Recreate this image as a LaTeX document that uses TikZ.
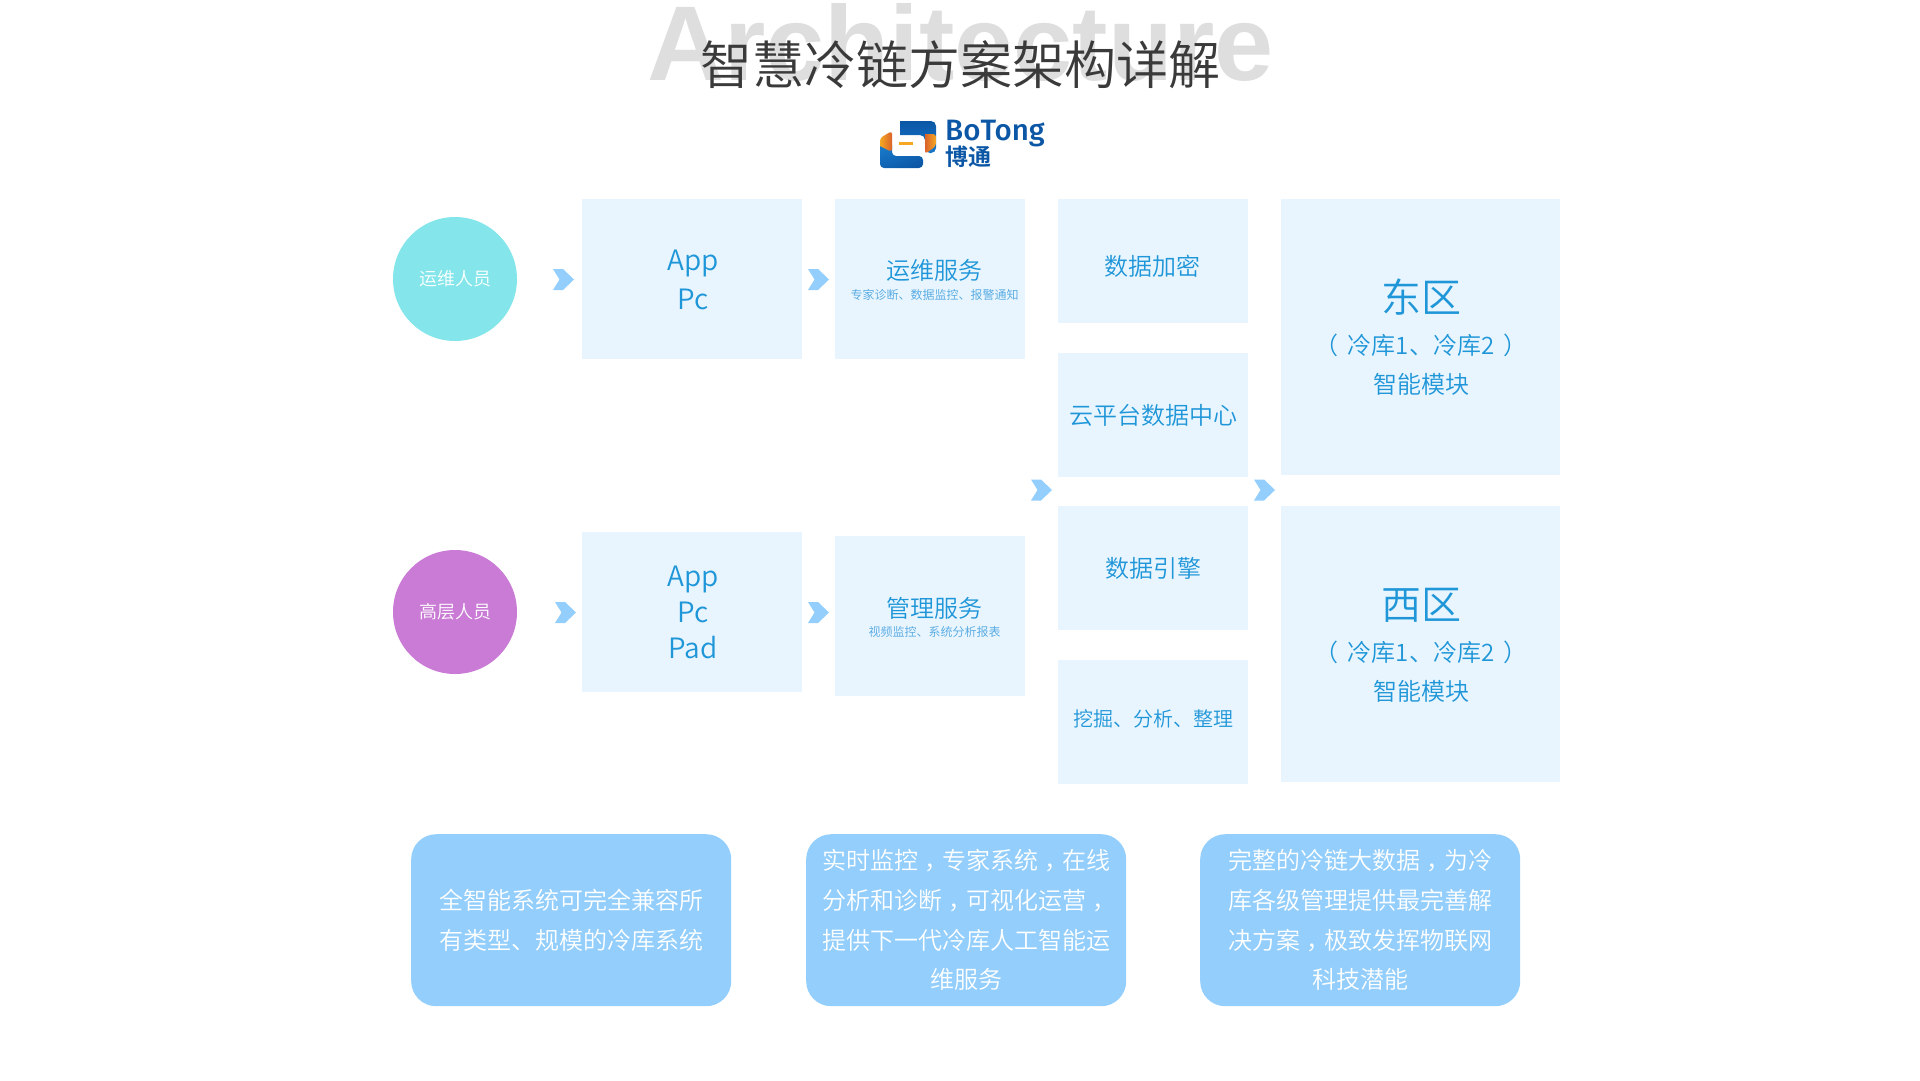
\documentclass[tikz,border=0pt]{standalone}
\usepackage{fontspec}
\newfontfamily\cjk{Noto Sans CJK SC DemiLight}
\newfontfamily\cjkb{Noto Sans CJK SC Bold}
\newfontfamily\archfont{Liberation Sans Bold}
\newfontfamily\logofont{Fira Sans Medium}
\definecolor{boxblue}{HTML}{E8F5FF}
\definecolor{txtblue}{HTML}{1F96D8}
\definecolor{subblue}{HTML}{4FA6E0}
\definecolor{chev}{HTML}{93CEFC}
\definecolor{teal}{HTML}{84E6EA}
\definecolor{purp}{HTML}{C97BD5}
\definecolor{titlec}{HTML}{3A3A3A}
\definecolor{archc}{HTML}{DEDEDE}
\definecolor{logob}{HTML}{0B57A6}
\definecolor{logobl}{HTML}{1878C8}
\definecolor{logoo}{HTML}{F6A823}
\definecolor{logor}{HTML}{D9622B}
\newcommand{\fs}[2]{\fontsize{#1}{#2}\selectfont}
\newcommand{\ccomma}{\kern7pt，\kern-7pt}
\tikzset{
  x=1pt,y=-1pt,
  panel/.style={fill=boxblue,inner sep=0pt,anchor=north west,draw=none},
  person/.style={circle,inner sep=0pt,minimum size=124pt,text=white,font=\cjk\fs{18}{22}},
  lbl/.style={inner sep=0pt,align=center,text=txtblue},
  note/.style={rounded corners=25pt,fill=chev,inner sep=0pt,anchor=north west,minimum width=320pt,minimum height=172pt},
  notetxt/.style={inner sep=0pt,align=center,text=white,font=\cjk\fs{24}{39.7}},
  chevron/.style={fill=chev,draw=none}
}
\newcommand{\chevronat}[2]{\fill[chevron] (#1,#2) ++(-10.5,-10.5) -- ++(10,0) -- ++(11,10.5) -- ++(-11,10.5) -- ++(-10,0) -- ++(6.5,-10.5) -- cycle;}
\begin{document}
\begin{tikzpicture}
\useasboundingbox (0,0) rectangle (1920,1080);
\clip (0,0) rectangle (1920,1080);
% title
\node (arch) [inner sep=0pt,anchor=base,text=archc,font=\archfont\fs{106.3}{106}] at (960.5,80) {Architecture};
\node (title) [inner sep=0pt,text=titlec,font=\cjk\fs{52}{60}] at (960,65) {智慧冷链方案架构详解};
% logo
\shade[top color=logob,bottom color=logobl] (900,121) [rounded corners=5pt] -- (936,121) -- (936,153) -- (925,153) -- (925,135) [sharp corners] -- (900,135) -- cycle;
\shade[top color=logob,bottom color=logobl,shading angle=200] (880,145) [rounded corners=4pt] -- (880,168) -- (923,168) -- (923,156) -- (892,156) [sharp corners] -- (892,145) -- cycle;
\shade[left color=logoo,right color=logor] (880,146) [rounded corners=3pt] -- (880,138) -- (892,131) -- (892,152) [sharp corners] -- cycle;
\shade[left color=logor,right color=logoo] (925,134) [rounded corners=3pt] -- (936,134) -- (936,146) -- (925,154) [sharp corners] -- cycle;
\fill[logoo] (899,142) rectangle (913,145);
\node (logoen) [inner sep=0pt,anchor=base west,text=logob,font=\logofont\fs{29.5}{31}] at (945,140) {BoTong};
\node (logocn) [inner sep=0pt,anchor=north west,text=logob,font=\cjkb\fs{23}{23}] at (945,146) {博通};
% people
\node (p1) [person,fill=teal] at (455,279) {运维人员};
\node (p2) [person,fill=purp] at (455,612) {\raisebox{-2pt}{高层人员}};
% panels
\node (a1) [panel,minimum width=220pt,minimum height=160pt] at (582,199) {};
\node (a2) [panel,minimum width=220pt,minimum height=160pt] at (582,532) {};
\node (s1) [panel,minimum width=190pt,minimum height=160pt] at (835,199) {};
\node (s2) [panel,minimum width=190pt,minimum height=160pt] at (835,536) {};
\node (c1) [panel,minimum width=190pt,minimum height=124pt] at (1058,199) {};
\node (c2) [panel,minimum width=190pt,minimum height=124pt] at (1058,353) {};
\node (c3) [panel,minimum width=190pt,minimum height=124pt] at (1058,506) {};
\node (c4) [panel,minimum width=190pt,minimum height=124pt] at (1058,660) {};
\node (z1) [panel,minimum width=279pt,minimum height=276pt] at (1281,199) {};
\node (z2) [panel,minimum width=279pt,minimum height=276pt] at (1281,506) {};
% labels
\node (a1t) [lbl,font=\cjk\fs{28}{39}] at (693,279.5) {App\\Pc};
\node (a2t) [lbl,font=\cjk\fs{28}{36}] at (693,612) {App\\Pc\\Pad};
\node (s1t) [lbl,font=\cjk\fs{24}{28}] at (934.5,270.5) {运维服务};
\node (s1n) [lbl,text=subblue,font=\cjk\fs{12}{14}] at (934.5,295) {专家诊断、数据监控、报警通知};
\node (s2t) [lbl,font=\cjk\fs{24}{28}] at (934.5,608) {管理服务};
\node (s2n) [lbl,text=subblue,font=\cjk\fs{12}{14}] at (934.5,632) {视频监控、系统分析报表};
\node (c1t) [lbl,font=\cjk\fs{24}{28}] at (1152,266) {数据加密};
\node (c2t) [lbl,font=\cjk\fs{24}{28}] at (1153,415) {云平台数据中心};
\node (c3t) [lbl,font=\cjk\fs{24}{28}] at (1153.5,568) {数据引擎};
\node (c4t) [lbl,font=\cjk\fs{20}{24}] at (1153.5,719) {挖掘、分析、整理};
\node (z1a) [lbl,font=\cjk\fs{40}{46}] at (1421,297) {东区};
\node (z1b) [lbl,font=\cjk\fs{24}{39}] at (1421,364.5) {（\kern9pt 冷库1、冷库2\kern9pt ）\\智能模块};
\node (z2a) [lbl,font=\cjk\fs{40}{46}] at (1421,605) {西区};
\node (z2b) [lbl,font=\cjk\fs{24}{39}] at (1421,671.5) {（\kern9pt 冷库1、冷库2\kern9pt ）\\智能模块};
% chevrons
\chevronat{563.5}{279.5}
\chevronat{565.5}{612.5}
\chevronat{818.5}{279.5}
\chevronat{818.5}{612.5}
\chevronat{1041.5}{490}
\chevronat{1264.5}{490}
% bottom notes
\node (n1) [note] at (411,834) {};
\node (n2) [note] at (806,834) {};
\node (n3) [note] at (1200,834) {};
\node (n1t) [notetxt] at (571,920.5) {全智能系统可完全兼容所\\有类型、规模的冷库系统};
\node (n2t) [notetxt] at (966,920) {实时监控\ccomma 专家系统\ccomma 在线\\分析和诊断\ccomma 可视化运营\ccomma\\提供下一代冷库人工智能运\\维服务};
\node (n3t) [notetxt] at (1360,920) {完整的冷链大数据\ccomma 为冷\\库各级管理提供最完善解\\决方案\ccomma 极致发挥物联网\\科技潜能};
\end{tikzpicture}
\end{document}
